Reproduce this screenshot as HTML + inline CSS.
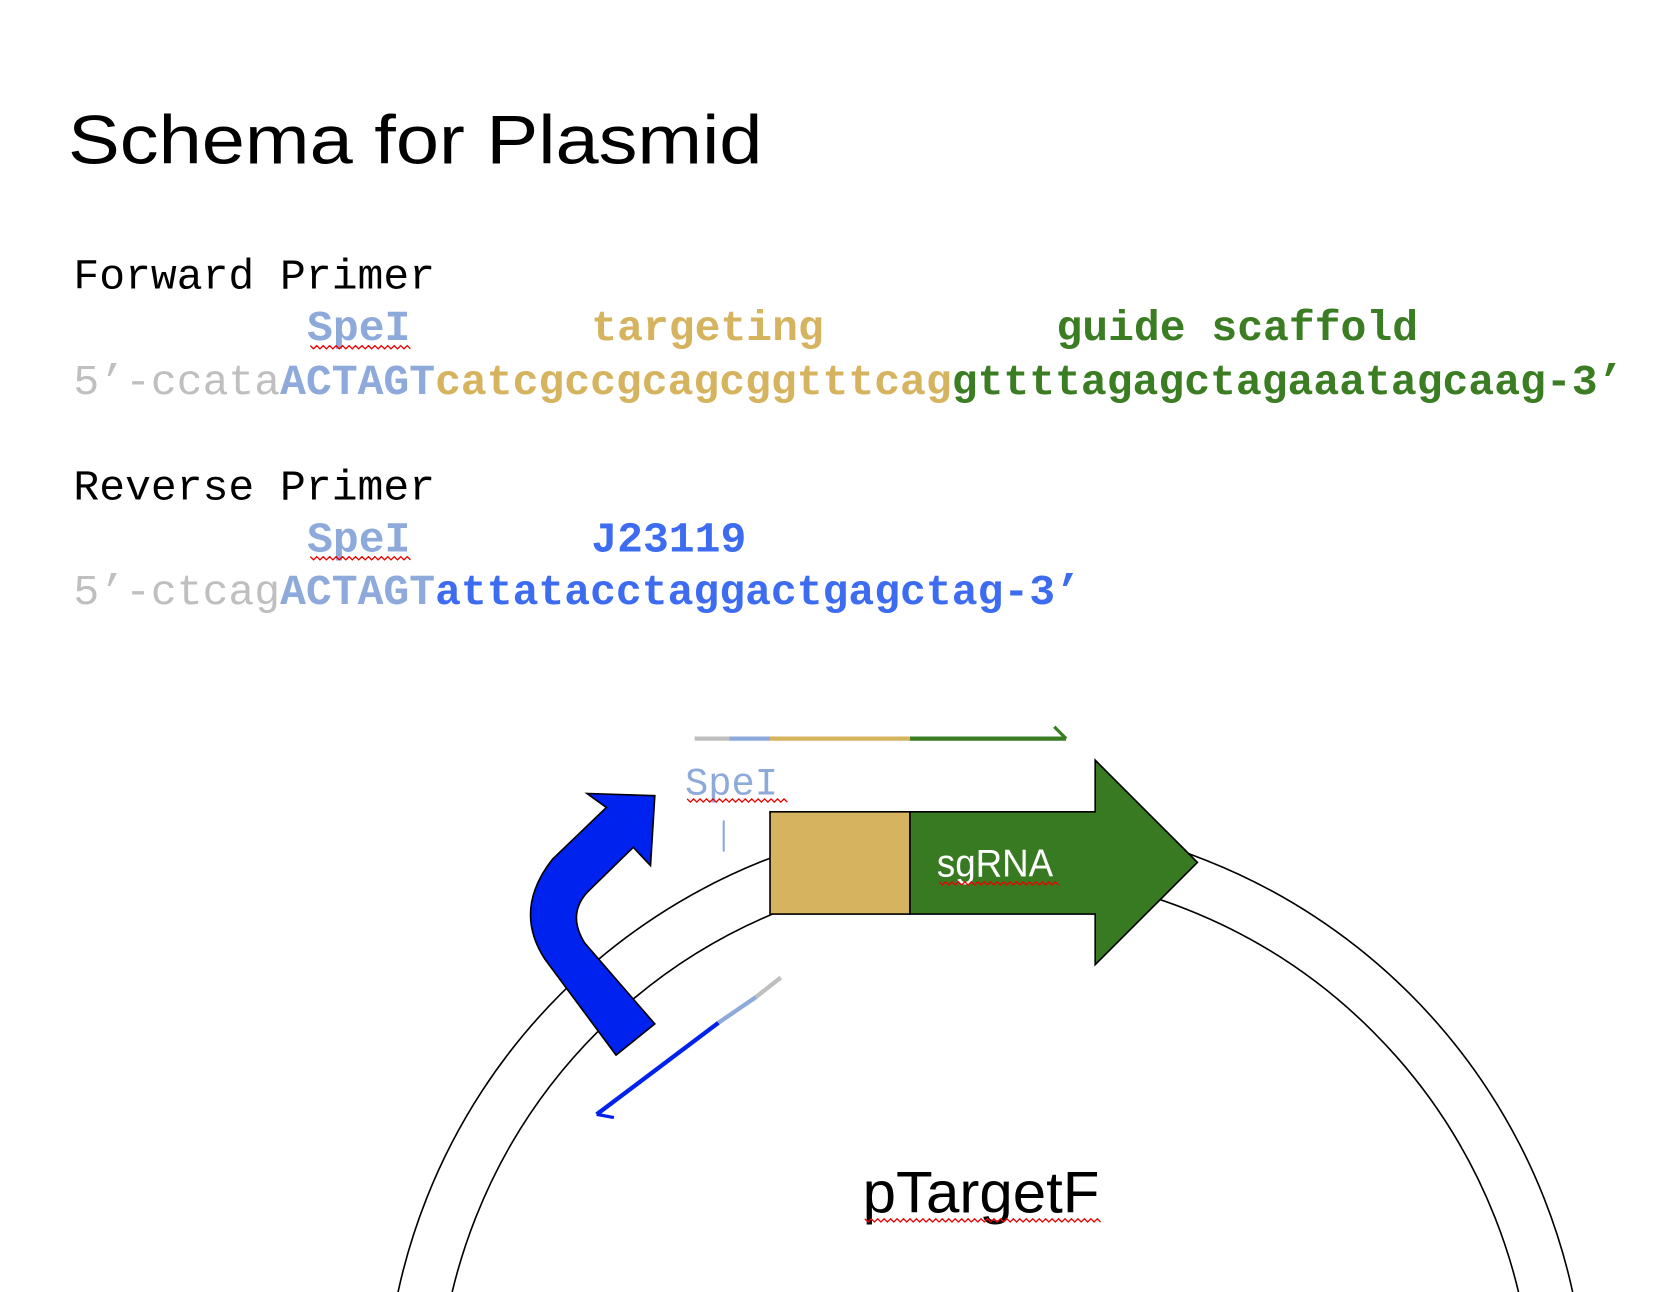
<!DOCTYPE html>
<html><head><meta charset="utf-8"><style>
html,body{margin:0;padding:0;background:#fff;width:1680px;height:1292px;overflow:hidden;}
svg{display:block;}
.m{font-family:"Liberation Mono",monospace;font-size:40px;}
.b{font-weight:bold;}
</style></head><body>
<svg width="1680" height="1292" viewBox="0 0 1560 1200" xmlns="http://www.w3.org/2000/svg">
<rect width="1560" height="1200" fill="#fff"/>
<text x="63" y="152" font-family="Liberation Sans, sans-serif" font-size="64" textLength="645" lengthAdjust="spacingAndGlyphs" fill="#000">Schema for Plasmid</text>

<text class="m" x="68" y="268" fill="#000">Forward Primer</text>
<text class="m b" x="68" y="316"><tspan x="285" fill="#8eaadb">SpeI</tspan><tspan x="549" fill="#d6b35e">targeting</tspan><tspan x="981" fill="#3a7d22">guide scaffold</tspan></text>
<text class="m" x="68" y="366"><tspan fill="#bfbfbf">5’-ccata</tspan><tspan class="b" fill="#8eaadb">ACTAGT</tspan><tspan class="b" fill="#d6b35e">catcgccgcagcggtttcag</tspan><tspan class="b" fill="#3a7d22">gttttagagctagaaatagcaag-3’</tspan></text>

<text class="m" x="68" y="464" fill="#000">Reverse Primer</text>
<text class="m b" x="68" y="512"><tspan x="285" fill="#8eaadb">SpeI</tspan><tspan x="549" fill="#3d6cf0">J23119</tspan></text>
<text class="m" x="68" y="561"><tspan fill="#bfbfbf">5’-ctcag</tspan><tspan class="b" fill="#8eaadb">ACTAGT</tspan><tspan class="b" fill="#3d6cf0">attatacctaggactgagctag-3’</tspan></text>
<g stroke="#e00" stroke-width="1.2" fill="none">
<polyline points="288,321 291,324 294,321 297,324 300,321 303,324 306,321 309,324 312,321 315,324 318,321 321,324 324,321 327,324 330,321 333,324 336,321 339,324 342,321 345,324 348,321 351,324 354,321 357,324 360,321 363,324 366,321 369,324 372,321 375,324 378,321 381,324"/>
<polyline points="288,517 291,520 294,517 297,520 300,517 303,520 306,517 309,520 312,517 315,520 318,517 321,520 324,517 327,520 330,517 333,520 336,517 339,520 342,517 345,520 348,517 351,520 354,517 357,520 360,517 363,520 366,517 369,520 372,517 375,520 378,517 381,520"/>
</g>

<circle cx="915" cy="1318" r="558" fill="none" stroke="#000" stroke-width="1.5"/>
<circle cx="915" cy="1318" r="509" fill="none" stroke="#000" stroke-width="1.5"/>

<line x1="645" y1="686" x2="677" y2="686" stroke="#bfbfbf" stroke-width="4"/>
<line x1="677" y1="686" x2="715" y2="686" stroke="#8eaadb" stroke-width="4"/>
<line x1="715" y1="686" x2="845" y2="686" stroke="#d6b35e" stroke-width="4"/>
<line x1="845" y1="686" x2="990" y2="686" stroke="#3a7d22" stroke-width="4"/>
<line x1="990" y1="686" x2="979" y2="675" stroke="#3a7d22" stroke-width="3"/>

<text x="636" y="738" font-family="Liberation Mono, monospace" font-size="36" fill="#8eaadb">SpeI</text>
<polyline points="638,742 641,745 644,742 647,745 650,742 653,745 656,742 659,745 662,742 665,745 668,742 671,745 674,742 677,745 680,742 683,745 686,742 689,745 692,742 695,745 698,742 701,745 704,742 707,745 710,742 713,745 716,742 719,745 722,742 725,745 728,742 731,745" stroke="#e00" stroke-width="1.2" fill="none"/>
<line x1="672" y1="762" x2="672" y2="791" stroke="#8eaadb" stroke-width="2"/>

<rect x="715" y="754" width="130" height="95" fill="#d6b35e" stroke="#000" stroke-width="1.5"/>
<path d="M845,754 L1017,754 L1017,706 L1112,801 L1017,896 L1017,849 L845,849 Z" fill="#387a22" stroke="#000" stroke-width="1.5"/>
<text x="870" y="814" font-family="Liberation Sans, sans-serif" font-size="36" fill="#fff" textLength="108" lengthAdjust="spacingAndGlyphs">sgRNA</text>
<polyline points="872,819 875,822 878,819 881,822 884,819 887,822 890,819 893,822 896,819 899,822 902,819 905,822 908,819 911,822 914,819 917,822 920,819 923,822 926,819 929,822 932,819 935,822 938,819 941,822 944,819 947,822 950,819 953,822 956,819 959,822 962,819 965,822 968,819 971,822 974,819 977,822 980,819 983,822" stroke="#e00" stroke-width="1.2" fill="none"/>

<path d="M572,980 L506,891 Q476,845 513,798 L563,750 L545,737 L608,739 L604,804 L588,787 L546,828 Q526,849 543,876 L608,951 Z" fill="#0022ee" stroke="#000" stroke-width="1.5"/>

<line x1="725" y1="908" x2="702" y2="926" stroke="#bfbfbf" stroke-width="4"/>
<line x1="702" y1="926" x2="667" y2="950" stroke="#8eaadb" stroke-width="4"/>
<line x1="667" y1="950" x2="554" y2="1035" stroke="#0022ee" stroke-width="4"/>
<line x1="554" y1="1035" x2="570" y2="1038" stroke="#0022ee" stroke-width="3"/>

<text x="801" y="1126" font-family="Liberation Sans, sans-serif" font-size="54" fill="#000" textLength="220" lengthAdjust="spacingAndGlyphs">pTargetF</text>
<polyline points="803,1132 806,1135 809,1132 812,1135 815,1132 818,1135 821,1132 824,1135 827,1132 830,1135 833,1132 836,1135 839,1132 842,1135 845,1132 848,1135 851,1132 854,1135 857,1132 860,1135 863,1132 866,1135 869,1132 872,1135 875,1132 878,1135 881,1132 884,1135 887,1132 890,1135 893,1132 896,1135 899,1132 902,1135 905,1132 908,1135 911,1132 914,1135 917,1132 920,1135 923,1132 926,1135 929,1132 932,1135 935,1132 938,1135 941,1132 944,1135 947,1132 950,1135 953,1132 956,1135 959,1132 962,1135 965,1132 968,1135 971,1132 974,1135 977,1132 980,1135 983,1132 986,1135 989,1132 992,1135 995,1132 998,1135 1001,1132 1004,1135 1007,1132 1010,1135 1013,1132 1016,1135 1019,1132 1022,1135" stroke="#e00" stroke-width="1.2" fill="none"/>
</svg>
</body></html>
